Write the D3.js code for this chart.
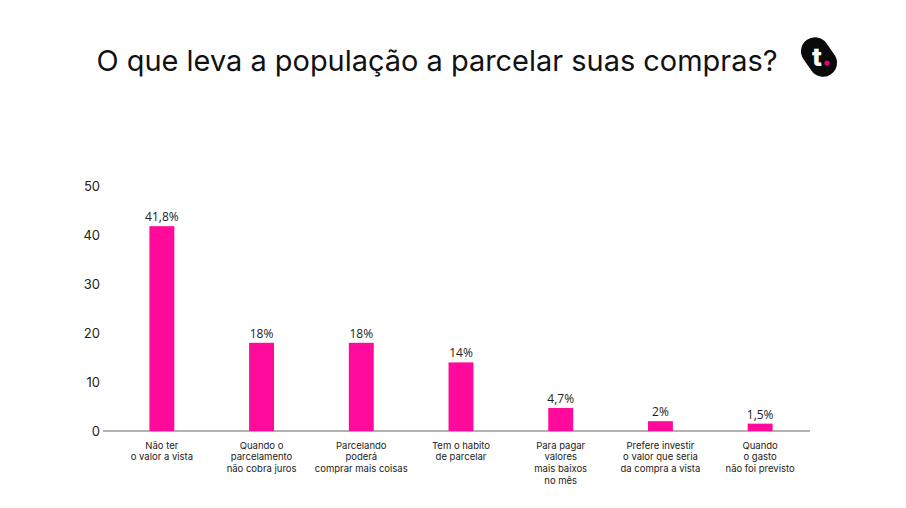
<!DOCTYPE html>
<html><head><meta charset="utf-8">
<script src="https://cdn.jsdelivr.net/npm/d3@7"></script>
<style>body{margin:0;background:#fff}svg{display:block}</style>
</head><body>
<script>
const categories = [
  ["Não ter","o valor a vista"],
  ["Quando o","parcelamento","não cobra juros"],
  ["Parcelando","poderá","comprar mais coisas"],
  ["Tem o habito","de parcelar"],
  ["Para pagar","valores","mais baixos","no mês"],
  ["Prefere investir","o valor que seria","da compra a vista"],
  ["Quando","o gasto","não foi previsto"]
];
const values = [41.8, 18, 18, 14, 4.7, 2, 1.5];
const valueLabels = ["41,8%","18%","18%","14%","4,7%","2%","1,5%"];
const yTicks = [0,10,20,30,40,50];
const title = "O que leva a população a parcelar suas compras?";

const W=906,H=508;
const svg=d3.select("body").append("svg").attr("width",W).attr("height",H);

const tt=svg.append("text").attr("x",437).attr("y",71).attr("text-anchor","middle")
  .attr("font-family","Inter, sans-serif").attr("font-size",29).attr("fill","#111")
  .text(title);
// fit title width to reference span
const tw=tt.node().getComputedTextLength();
tt.attr("textLength",681).attr("lengthAdjust","spacingAndGlyphs");

// logo
const lg=svg.append("g").attr("transform","translate(819,57) rotate(-35)");
lg.append("rect").attr("x",-14).attr("y",-21).attr("width",28).attr("height",42).attr("rx",14).attr("fill","#0a0a0a");
const lg2=svg.append("g").attr("transform","translate(819,57)");
lg2.append("text").attr("x",-2).attr("y",9).attr("text-anchor","middle").attr("font-family","Inter, sans-serif")
  .attr("font-weight",800).attr("font-size",26).attr("fill","#fff").text("t");
lg2.append("circle").attr("cx",8).attr("cy",6).attr("r",2.6).attr("fill","#e5007e");

const x=d3.scaleBand().domain(d3.range(values.length)).range([112,810]).paddingInner(0.75).paddingOuter(0.375);
const y=d3.scaleLinear().domain([0,50]).range([431,186]);

svg.append("line").attr("x1",112).attr("x2",810).attr("y1",y(0)).attr("y2",y(0)).attr("stroke","#999").attr("stroke-width",1.5);
svg.append("line").attr("x1",103).attr("x2",112).attr("y1",y(0)).attr("y2",y(0)).attr("stroke","#999").attr("stroke-width",1.5);

svg.selectAll(".yt").data(yTicks).enter().append("text")
  .attr("x",100).attr("y",d=>y(d)).attr("dy","0.35em").attr("text-anchor","end")
  .attr("font-family","Inter, sans-serif").attr("font-size",13).attr("fill","#222").text(d=>d);

svg.selectAll(".bar").data(values).enter().append("rect")
  .attr("x",(d,i)=>x(i)).attr("width",x.bandwidth())
  .attr("y",d=>y(d)).attr("height",d=>y(0)-y(d)).attr("fill","#ff0a9a");

svg.selectAll(".vl").data(values).enter().append("text")
  .attr("x",(d,i)=>x(i)+x.bandwidth()/2).attr("y",d=>y(d)-5).attr("text-anchor","middle")
  .attr("font-family","'Open Sans', sans-serif").attr("font-size",12).attr("fill","#222")
  .text((d,i)=>valueLabels[i]);

const cl=svg.selectAll(".cl").data(categories).enter().append("text")
  .attr("text-anchor","middle").attr("font-family","Inter, sans-serif").attr("font-size",9.5).attr("fill","#222");
cl.each(function(lines,i){
  const t=d3.select(this);
  lines.forEach((ln,j)=>t.append("tspan").attr("x",x(i)+x.bandwidth()/2).attr("y",448.5+j*11.7).text(ln));
});
</script>
</body></html>
